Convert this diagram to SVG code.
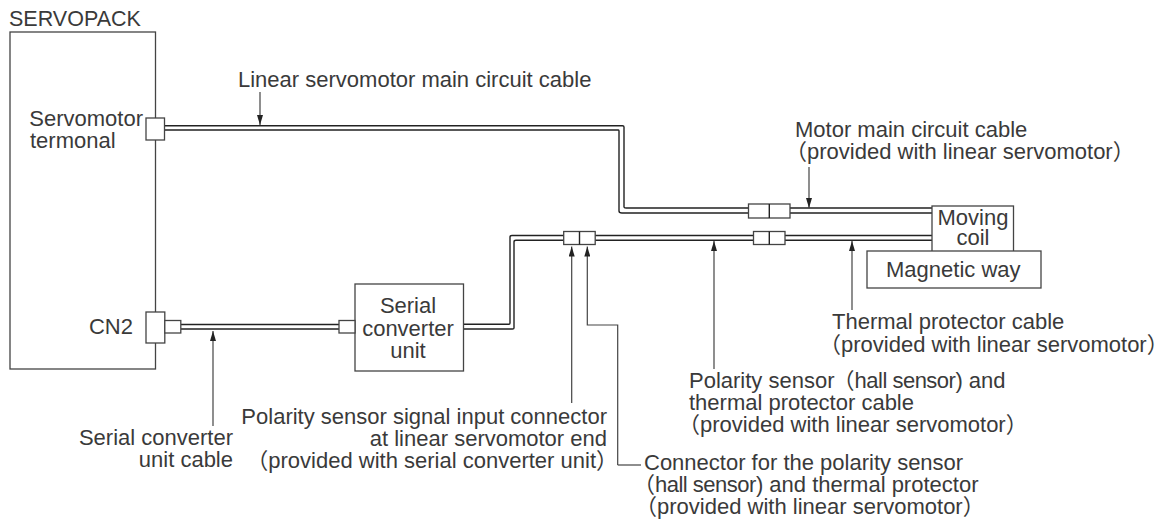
<svg xmlns="http://www.w3.org/2000/svg" width="1167" height="520" viewBox="0 0 1167 520">
<style>
text{font-family:"Liberation Sans","Noto Sans CJK JP",sans-serif;font-size:22px;fill:#3a3a3a}
.e{text-anchor:end}.m{text-anchor:middle}
.t{letter-spacing:-.5px}
.b{fill:#fff;stroke:#444;stroke-width:1.3}
.c{fill:none;stroke:#222;stroke-width:1.4}
.l{fill:none;stroke:#444;stroke-width:1.2}
</style>
<defs><marker id="a" markerUnits="userSpaceOnUse" markerWidth="10" markerHeight="6" refX="10" refY="3" orient="auto" viewBox="0 0 10 6"><path d="M0 0L10 3L0 6Z" fill="#222"/></marker></defs>
<rect width="1167" height="520" fill="#fff"/>
<g id="servopack"><rect class="b" x="10" y="32" width="145.500" height="337"/><text x="9" y="26" style="font-size:21.500px">SERVOPACK</text><text class="e" x="143" y="126">Servomotor</text><text x="30" y="148">termonal</text><text class="e" x="133" y="334">CN2</text></g>
<g id="connectors">
<path class="c" d="M164 125.700H622.500Q624 125.700 624 127V207Q624 208 626 208H932M164 130H618.500Q619 130 619 131V211Q619 213 622 213H932"/>
<path class="c" d="M181 324.500H339M181 329H339"/>
<path class="c" d="M463.500 324.300H509Q510 324.300 510 323V237Q510 235.500 512 235.500H932M463.500 329H512.500Q514 329 514 328V242Q514 240.300 516 240.300H932"/>
<g><path class="l" d="M260 92V125" marker-end="url(#a)"/><path class="l" d="M809 167V208" marker-end="url(#a)"/><path class="l" d="M714 369V241" marker-end="url(#a)"/><path class="l" d="M852 310V241" marker-end="url(#a)"/><path class="l" d="M213 426V331" marker-end="url(#a)"/><path class="l" d="M571.700 403V246.500" marker-end="url(#a)"/><path class="l" d="M617.700 465H641"/><path class="l" d="M617.700 465V325H587.300V246.500" marker-end="url(#a)"/></g>
</g>
<g id="servo-terminal"><rect class="b" x="146" y="118" width="18.500" height="22"/></g>
<g id="cn2"><rect class="b" x="146" y="312" width="18.800" height="31"/><rect class="b" x="164.800" y="320.500" width="16" height="12.500"/></g>
<g id="serial-converter"><rect class="b" x="355" y="284" width="108.500" height="87"/><rect class="b" x="339" y="320.500" width="16" height="12.500"/><text class="m" x="408" y="313">Serial</text><text class="m" x="408" y="336">converter</text><text class="m" x="408" y="358">unit</text></g>
<g id="conn-1"><rect class="b" x="748.500" y="204" width="41.500" height="14"/><path class="c" d="M769.300 204V218"/></g>
<g id="conn-2"><rect class="b" x="753.500" y="231.500" width="31.500" height="13"/><path class="c" d="M769.300 231.500V244.500"/></g>
<g id="conn-3"><rect class="b" x="563.700" y="231.500" width="31.500" height="13"/><path class="c" d="M579.500 231.500V244.500"/></g>
<g id="moving-coil"><rect class="b" x="932" y="206" width="81.500" height="46"/><text class="m" x="973" y="225">Moving</text><text class="m" x="973" y="245">coil</text></g>
<g id="magnetic-way"><rect class="b" x="867" y="251" width="174" height="37"/><text x="886" y="277">Magnetic way</text></g>
<g id="labels">
<text x="238" y="87">Linear servomotor main circuit cable</text>
<text x="795" y="137">Motor main circuit cable</text>
<text x="785" y="159">（provided with linear servomotor）</text>
<text x="832" y="329">Thermal protector cable</text>
<text x="819" y="352">（provided with linear servomotor）</text>
<text x="689" y="388">Polarity sensor<tspan dx="-2">（</tspan><tspan class="t">hall sensor</tspan>) and</text>
<text x="689" y="410">thermal protector cable</text>
<text x="678" y="432">（provided with linear servomotor）</text>
<text class="e" x="233" y="445">Serial converter</text>
<text class="e" x="233" y="467">unit cable</text>
<text class="e" x="607" y="424">Polarity sensor signal input connector</text>
<text class="e" x="607" y="446">at linear servomotor end</text>
<text class="e" x="618" y="468">（provided with serial converter unit）</text>
<text x="644" y="470">Connector for the polarity sensor</text>
<text x="633" y="492">（<tspan class="t">hall sensor</tspan>) and thermal protector</text>
<text x="635" y="514">（provided with linear servomotor）</text>
</g>
</svg>
